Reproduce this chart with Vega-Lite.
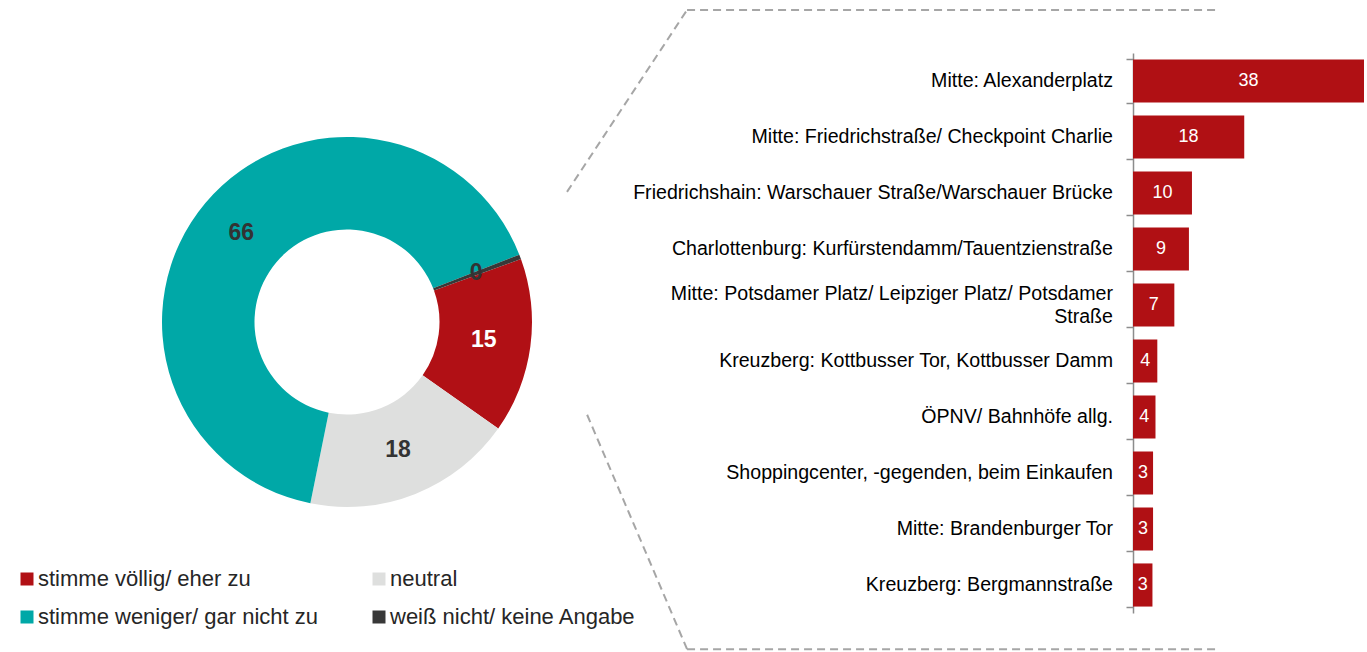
{
  "$schema": "https://vega.github.io/schema/vega-lite/v6.json",
  "padding": 0,
  "background": "white",
  "bounds": "flush",
  "spacing": 439,
  "resolve": {"legend": {"color": "independent"}, "scale": {"color": "independent"}},
  "config": {"view": {"stroke": null}, "font": "Liberation Sans"},
  "hconcat": [
    {
      "width": 694,
      "height": 644,
      "layer": [
        {
          "data": {"values": [
            {"answer": "stimme völlig/ eher zu", "share": 15.3, "seq": 1},
            {"answer": "neutral", "share": 18.4, "seq": 2},
            {"answer": "stimme weniger/ gar nicht zu", "share": 65.9, "seq": 3},
            {"answer": "weiß nicht/ keine Angabe", "share": 0.4, "seq": 4}
          ]},
          "encoding": {
            "theta": {"field": "share", "type": "quantitative", "stack": true, "scale": {"range": [1.2235, 7.5067]}},
            "order": {"field": "seq", "type": "quantitative"},
            "detail": {"field": "answer", "type": "nominal"}
          },
          "layer": [
            {
              "mark": {"type": "arc", "outerRadius": 185, "innerRadius": 92.5},
              "encoding": {
                "color": {
                  "field": "answer", "type": "nominal",
                  "scale": {
                    "domain": ["stimme völlig/ eher zu", "neutral", "stimme weniger/ gar nicht zu", "weiß nicht/ keine Angabe"],
                    "range": ["#B11015", "#DEDFDE", "#00A8A7", "#383838"]
                  },
                  "legend": {
                    "title": null, "orient": "bottom-left", "offset": 16, "padding": 0,
                    "columns": 2, "direction": "horizontal", "symbolType": "square", "symbolSize": 169,
                    "labelFontSize": 22, "labelColor": "#262626", "columnPadding": 50, "rowPadding": 16,
                    "labelOffset": 0, "symbolStrokeWidth": 0, "labelLimit": 400
                  }
                }
              }
            },
            {
              "mark": {"type": "text", "radius": 138, "fontSize": 23, "fontWeight": "bold"},
              "encoding": {
                "text": {"field": "share", "type": "quantitative", "format": ".0f"},
                "color": {"condition": {"test": "datum.answer === 'stimme völlig/ eher zu'", "value": "white"}, "value": "#333333"}
              }
            }
          ]
        },
        {
          "data": {"values": [
            {"x": 0.817, "y": 0.298, "x2": 0.990, "y2": 0.0155},
            {"x": 0.990, "y": 0.0155, "x2": 1.758, "y2": 0.0155},
            {"x": 0.846, "y": 0.644, "x2": 0.990, "y2": 1.008},
            {"x": 0.990, "y": 1.008, "x2": 1.758, "y2": 1.008}
          ]},
          "mark": {"type": "rule", "strokeDash": [8, 5], "strokeWidth": 2, "color": "#A6A6A6"},
          "encoding": {
            "x": {"field": "x", "type": "quantitative", "scale": {"domain": [0, 1], "nice": false}, "axis": null},
            "y": {"field": "y", "type": "quantitative", "scale": {"domain": [0, 1], "nice": false, "reverse": true}, "axis": null},
            "x2": {"field": "x2"},
            "y2": {"field": "y2"}
          }
        }
      ]
    },
    {
      "width": 231,
      "height": 652,
      "data": {"values": [
        {"place": "Mitte: Alexanderplatz", "share": 38.0},
        {"place": "Mitte: Friedrichstraße/ Checkpoint Charlie", "share": 18.3},
        {"place": "Friedrichshain: Warschauer Straße/Warschauer Brücke", "share": 9.7},
        {"place": "Charlottenburg: Kurfürstendamm/Tauentzienstraße", "share": 9.2},
        {"place": "Mitte: Potsdamer Platz/ Leipziger Platz/ Potsdamer|Straße", "share": 6.8},
        {"place": "Kreuzberg: Kottbusser Tor, Kottbusser Damm", "share": 4.0},
        {"place": "ÖPNV/ Bahnhöfe allg.", "share": 3.7},
        {"place": "Shoppingcenter, -gegenden, beim Einkaufen", "share": 3.3},
        {"place": "Mitte: Brandenburger Tor", "share": 3.3},
        {"place": "Kreuzberg: Bergmannstraße", "share": 3.2}
      ]},
      "encoding": {
        "y": {
          "field": "place", "type": "nominal", "sort": null,
          "scale": {"range": [53, 613], "paddingInner": 0.23, "paddingOuter": 0.115},
          "axis": {
            "title": null, "labels": false, "tickBand": "extent", "tickSize": 7,
            "domainColor": "#8C8C8C", "tickColor": "#8C8C8C", "domainWidth": 1.5, "tickWidth": 1.5
          }
        }
      },
      "layer": [
        {
          "mark": {"type": "bar", "color": "#B01014"},
          "encoding": {
            "x": {"field": "share", "type": "quantitative", "scale": {"domain": [0, 38], "nice": false}, "axis": null}
          }
        },
        {
          "mark": {"type": "text", "color": "white", "fontSize": 18},
          "encoding": {
            "x": {"field": "share", "type": "quantitative", "stack": "zero", "bandPosition": 0.5},
            "detail": {"field": "place", "type": "nominal"},
            "text": {"field": "share", "type": "quantitative", "format": ".0f"}
          }
        },
        {
          "transform": [{"filter": "indexof(datum.place, '|') < 0"}],
          "mark": {"type": "text", "color": "#000000", "fontSize": 19.6, "align": "right", "baseline": "middle", "dx": -20},
          "encoding": {
            "x": {"datum": 0, "type": "quantitative"},
            "text": {"field": "place", "type": "nominal"}
          }
        },
        {
          "transform": [{"filter": "indexof(datum.place, '|') >= 0"}],
          "mark": {"type": "text", "color": "#000000", "fontSize": 19.6, "align": "right", "baseline": "middle", "dx": -20, "dy": -11.5, "lineBreak": "|", "lineHeight": 23},
          "encoding": {
            "x": {"datum": 0, "type": "quantitative"},
            "text": {"field": "place", "type": "nominal"}
          }
        }
      ]
    }
  ]
}
